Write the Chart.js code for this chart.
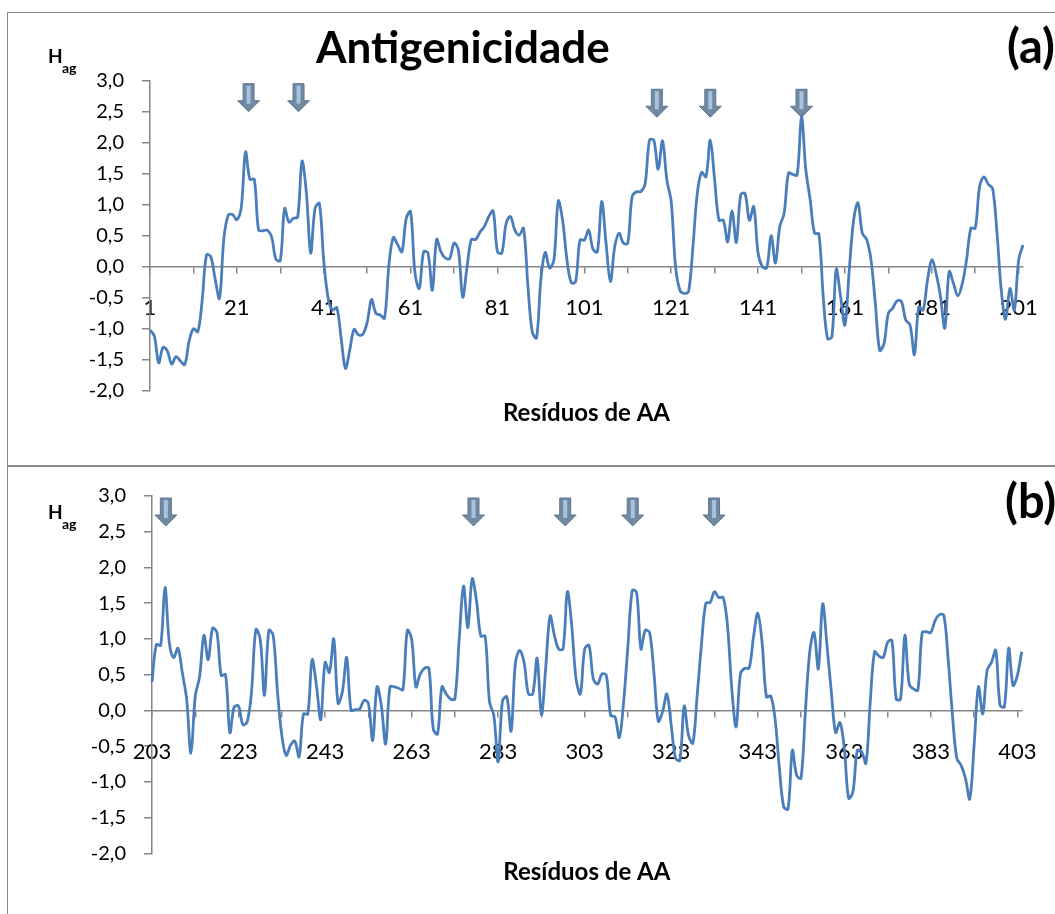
<!DOCTYPE html>
<html lang="pt">
<head>
<meta charset="utf-8">
<title>Antigenicidade</title>
<script src="https://cdn.jsdelivr.net/npm/chart.js@4/dist/chart.umd.min.js"></script>
<style>
  html, body { margin: 0; padding: 0; background: #fff; overflow: hidden; }
  body { width: 1055px; height: 914px; position: relative; }
  .moldura { position: absolute; left: 7px; width: 1100px; border: 1.5px solid #8a8a8a; box-sizing: border-box; }
  #molduraA { top: 12px; height: 455px; }
  #molduraB { top: 465px; height: 500px; }
  canvas { position: absolute; left: 0; }
  #graficoA { top: 0; }
  #graficoB { top: 466px; }
</style>
</head>
<body>
<div class="moldura" id="molduraA"></div>
<div class="moldura" id="molduraB"></div>
<canvas id="graficoA" width="1055" height="466"></canvas>
<canvas id="graficoB" width="1055" height="448"></canvas>
<script>
// Hag por resíduo, resíduos 1-202
const hagA = [
  -1.02, -1.12, -1.55, -1.30, -1.36, -1.57, -1.45, -1.52, -1.58, -1.20,
  -1.00, -1.05, -0.55, 0.19, 0.16, -0.20, -0.51, 0.45, 0.83, 0.84,
  0.76, 0.95, 1.85, 1.41, 1.41, 0.59, 0.58, 0.59, 0.48, 0.12,
  0.10, 0.94, 0.72, 0.78, 0.80, 1.70, 1.20, 0.22, 0.94, 1.02,
  0.10, -0.50, -0.70, -0.66, -1.15, -1.64, -1.34, -1.01, -1.10, -1.09,
  -0.90, -0.53, -0.75, -0.78, -0.83, 0.02, 0.47, 0.36, 0.24, 0.78,
  0.89, -0.10, -0.35, 0.24, 0.22, -0.38, 0.44, 0.24, 0.14, 0.13,
  0.38, 0.27, -0.49, 0.00, 0.44, 0.44, 0.56, 0.65, 0.81, 0.90,
  0.24, 0.22, 0.70, 0.81, 0.59, 0.51, 0.62, -0.30, -1.05, -1.15,
  -0.20, 0.23, -0.02, 0.11, 1.06, 0.75, 0.11, -0.26, -0.24, 0.43,
  0.43, 0.59, 0.28, 0.24, 1.05, 0.38, -0.24, 0.32, 0.54, 0.38,
  0.38, 1.13, 1.21, 1.21, 1.34, 2.04, 2.04, 1.57, 2.03, 1.40,
  1.05, 0.00, -0.38, -0.43, -0.40, 0.32, 1.18, 1.52, 1.45, 2.04,
  1.40, 0.75, 0.75, 0.40, 0.90, 0.39, 1.16, 1.18, 0.75, 0.97,
  0.22, 0.00, -0.02, 0.50, 0.06, 0.65, 0.86, 1.51, 1.49, 1.48,
  2.42, 1.56, 1.08, 0.54, 0.53, -0.48, -1.16, -1.13, -0.04, -0.48,
  -0.94, -0.05, 0.75, 1.03, 0.54, 0.44, 0.11, -0.59, -1.35, -1.24,
  -0.75, -0.67, -0.55, -0.56, -0.86, -0.94, -1.42, -0.65, -0.70, -0.22,
  0.11, -0.11, -0.48, -0.99, -0.08, -0.27, -0.47, -0.28, 0.11, 0.62,
  0.62, 1.29, 1.45, 1.33, 1.26, 0.56, -0.38, -0.85, -0.35, -0.70,
  0.11, 0.35
];

// Hag por resíduo, resíduos 203-404
const hagB = [
  0.40, 0.92, 0.91, 1.72, 0.95, 0.74, 0.87, 0.53, 0.16, -0.60,
  0.20, 0.47, 1.05, 0.71, 1.15, 1.09, 0.49, 0.50, -0.31, 0.05,
  0.06, -0.20, -0.16, 0.26, 1.13, 1.00, 0.21, 1.12, 1.05, 0.26,
  -0.35, -0.63, -0.49, -0.43, -0.65, -0.05, -0.05, 0.71, 0.35, -0.13,
  0.67, 0.53, 1.00, 0.10, 0.26, 0.74, 0.00, 0.01, 0.02, 0.14,
  0.10, -0.42, 0.33, 0.07, -0.47, 0.33, 0.33, 0.31, 0.29, 1.12,
  1.00, 0.33, 0.51, 0.59, 0.59, -0.26, -0.33, 0.33, 0.23, 0.16,
  0.16, 1.00, 1.74, 1.16, 1.84, 1.53, 1.04, 1.04, 0.12, -0.07,
  -0.72, 0.13, 0.19, -0.29, 0.67, 0.84, 0.67, 0.23, 0.23, 0.73,
  -0.06, 0.60, 1.32, 1.05, 0.86, 0.86, 1.66, 1.19, 0.44, 0.23,
  0.86, 0.91, 0.44, 0.37, 0.51, 0.49, -0.07, -0.09, -0.38, 0.12,
  0.91, 1.68, 1.65, 0.86, 1.12, 1.09, 0.53, -0.15, -0.02, 0.23,
  -0.21, -0.67, -0.70, 0.06, -0.35, -0.46, 0.21, 0.93, 1.50, 1.51,
  1.66, 1.58, 1.58, 1.19, 0.30, -0.23, 0.51, 0.59, 0.59, 1.02,
  1.36, 0.95, 0.19, 0.20, -0.12, -0.81, -1.35, -1.38, -0.56, -0.91,
  -0.95, -0.02, 0.81, 1.09, 0.58, 1.49, 0.91, 0.26, -0.31, -0.17,
  -0.53, -1.23, -1.14, -0.56, -0.58, -0.74, 0.12, 0.82, 0.76, 0.74,
  0.95, 0.98, 0.16, 0.16, 1.05, 0.37, 0.30, 0.28, 1.09, 1.10,
  1.09, 1.26, 1.34, 1.33, 0.72, -0.07, -0.67, -0.77, -0.95, -1.24,
  -0.49, 0.33, -0.05, 0.56, 0.67, 0.84, 0.07, 0.05, 0.87, 0.35,
  0.49, 0.82
];

const inicioA = 1;
const inicioB = 203;
const residuosA = hagA.map((_, i) => String(inicioA + i));
const residuosB = hagB.map((_, i) => String(inicioB + i));

// setas: resíduo marcado e valor de Hag onde fica a ponta
const setasA = [23.7, 35.2, 117.7, 130.0, 151.0];
const pontasA = [2.50, 2.50, 2.41, 2.41, 2.41];
const setasB = [206.2, 277.3, 298.5, 314.1, 332.9];
const pontasB = [2.58, 2.58, 2.58, 2.58, 2.58];

const yMin = -2, yMax = 3, yPasso = 0.5;

const FONTE = 'Lato, "Open Sans", sans-serif';

function desenhaSeta(ctx, x, yPonta) {
  const alt = 28, cabeca = 11, haste = 5.5, aba = 11;
  ctx.beginPath();
  ctx.moveTo(x - haste, yPonta - alt);
  ctx.lineTo(x + haste, yPonta - alt);
  ctx.lineTo(x + haste, yPonta - cabeca);
  ctx.lineTo(x + aba, yPonta - cabeca);
  ctx.lineTo(x, yPonta);
  ctx.lineTo(x - aba, yPonta - cabeca);
  ctx.lineTo(x - haste, yPonta - cabeca);
  ctx.closePath();
  ctx.fillStyle = '#7189a1';
  ctx.fill();
  ctx.strokeStyle = '#5e778f';
  ctx.lineWidth = 1;
  ctx.stroke();
  ctx.fillStyle = '#a6c2dc';
  ctx.fillRect(x - 2, yPonta - alt + 2, 4, alt - cabeca + 1);
}

function anotacoes(cfg) {
  return {
    id: 'anotacoes',
    beforeDatasetsDraw(chart) {
      const { ctx, scales } = chart;
      ctx.save();
      cfg.setas.forEach((r, i) => {
        const x = scales.x.getPixelForValue(r - cfg.inicio);
        const y = scales.y.getPixelForValue(cfg.pontas[i]);
        desenhaSeta(ctx, x, y);
      });
      ctx.restore();
    },
    afterDraw(chart) {
      const ctx = chart.ctx;
      ctx.save();
      ctx.fillStyle = '#000';
      ctx.textAlign = 'left';
      ctx.textBaseline = 'alphabetic';
      cfg.textos.forEach(t => {
        ctx.font = t.fonte;
        ctx.fillText(t.texto, t.x, t.y);
      });
      ctx.restore();
    }
  };
}

function grafico(id, rotulos, valores, cfg) {
  return new Chart(document.getElementById(id), {
    type: 'line',
    data: {
      labels: rotulos,
      datasets: [{
        data: valores,
        borderColor: '#4a7ebb',
        borderWidth: 2.8,
        pointRadius: 0,
        tension: 0.35,
        fill: false
      }]
    },
    options: {
      responsive: false,
      animation: false,
      layout: { padding: { top: cfg.topo, right: cfg.direita, left: 0, bottom: 0 } },
      plugins: { legend: { display: false }, tooltip: { enabled: false } },
      scales: {
        x: {
          type: 'category',
          position: { y: 0 },
          grid: {
            drawOnChartArea: false,
            tickLength: 6,
            lineWidth: 1.5,
            color: c => (c.index % 10 === 0 ? '#868686' : 'rgba(0,0,0,0)')
          },
          border: { color: '#868686', width: 1.5 },
          ticks: {
            autoSkip: false,
            maxRotation: 0,
            padding: cfg.padRotulo,
            color: '#000',
            font: { family: FONTE, size: 22 },
            callback: function (v, i) { return i % 20 === 0 ? this.getLabelForValue(v) : ''; }
          }
        },
        eixoTitulo: {
          type: 'category',
          position: 'bottom',
          grid: { display: false, drawTicks: false },
          border: { display: false },
          ticks: { display: false },
          title: {
            display: true,
            text: 'Resíduos de AA',
            color: '#000',
            font: { family: FONTE, size: 24, weight: 'bold' },
            padding: { top: 0, bottom: cfg.padTitulo }
          },
          afterFit: s => { s.height = cfg.baixo; }
        },
        y: {
          min: yMin,
          max: yMax,
          grid: { drawOnChartArea: false, tickLength: 8, color: '#868686', lineWidth: 1.5 },
          border: { color: '#868686', width: 1.5 },
          ticks: {
            stepSize: yPasso,
            padding: 18,
            color: '#000',
            font: { family: FONTE, size: 20 },
            callback: v => v.toFixed(1).replace('.', ',')
          },
          afterFit: s => { s.width = cfg.esquerda; }
        }
      }
    },
    plugins: [anotacoes(cfg)]
  });
}

grafico('graficoA', residuosA, hagA, {
  inicio: inicioA, setas: setasA, pontas: pontasA,
  topo: 80.7, direita: 32, esquerda: 150, baixo: 75.3,
  padRotulo: 22.5, padTitulo: 38.6,
  textos: [
    { texto: 'Antigenicidade', x: 316, y: 63, fonte: 'bold 44px ' + FONTE },
    { texto: '(a)', x: 1007, y: 63, fonte: 'bold 47px ' + FONTE },
    { texto: 'H', x: 48, y: 63, fonte: 'bold 19px ' + FONTE },
    { texto: 'ag', x: 62, y: 73, fonte: 'bold 14px ' + FONTE }
  ]
});

grafico('graficoB', residuosB, hagB, {
  inicio: inicioB, setas: setasB, pontas: pontasB,
  topo: 29, direita: 33.3, esquerda: 152, baixo: 60.7,
  padRotulo: 22.5, padTitulo: 27.6,
  textos: [
    { texto: '(b)', x: 1005, y: 52, fonte: 'bold 47px ' + FONTE },
    { texto: 'H', x: 48, y: 53, fonte: 'bold 19px ' + FONTE },
    { texto: 'ag', x: 62, y: 63, fonte: 'bold 14px ' + FONTE }
  ]
});
</script>
</body>
</html>
